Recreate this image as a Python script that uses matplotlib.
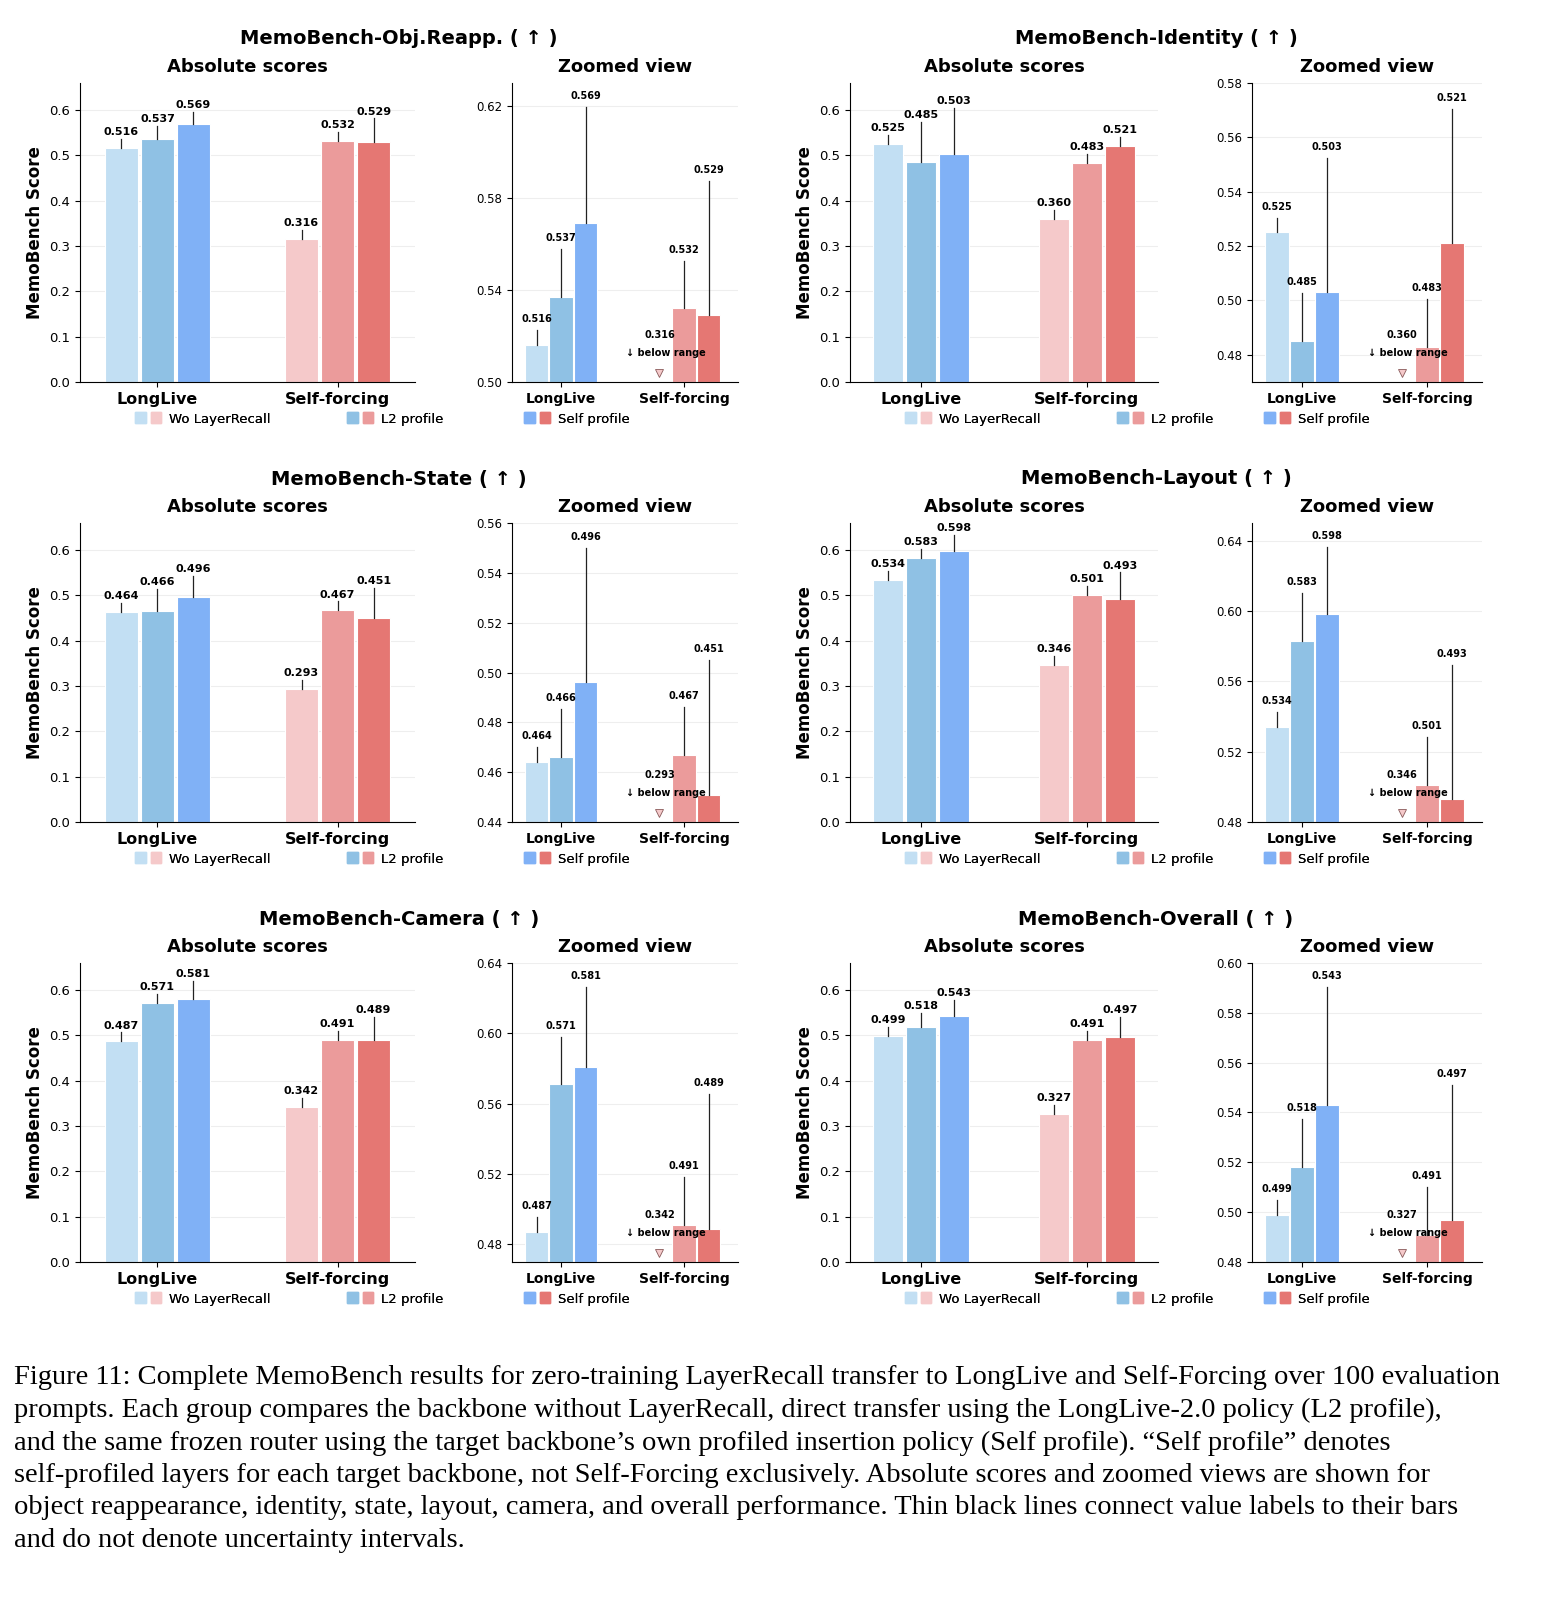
import matplotlib
matplotlib.use("Agg")
import matplotlib.pyplot as plt
from matplotlib.patches import Patch
from matplotlib.legend_handler import HandlerTuple

titles = ["MemoBench-Obj.Reapp. ( ↑ )", "MemoBench-Identity ( ↑ )", "MemoBench-State ( ↑ )",
          "MemoBench-Layout ( ↑ )", "MemoBench-Camera ( ↑ )", "MemoBench-Overall ( ↑ )"]
groups = ["LongLive", "Self-forcing"]
methods = ["Wo LayerRecall", "L2 profile", "Self profile"]
longlive = [[0.516, 0.537, 0.569], [0.525, 0.485, 0.503], [0.464, 0.466, 0.496],
            [0.534, 0.583, 0.598], [0.487, 0.571, 0.581], [0.499, 0.518, 0.543]]
selfforcing = [[0.316, 0.532, 0.529], [0.360, 0.483, 0.521], [0.293, 0.467, 0.451],
               [0.346, 0.501, 0.493], [0.342, 0.491, 0.489], [0.327, 0.491, 0.497]]
zoom_lims = [(0.50, 0.63), (0.47, 0.58), (0.44, 0.56), (0.48, 0.65), (0.47, 0.64), (0.48, 0.60)]
zoom_ticks = [[0.50, 0.54, 0.58, 0.62], [0.48, 0.50, 0.52, 0.54, 0.56, 0.58],
              [0.44, 0.46, 0.48, 0.50, 0.52, 0.54, 0.56], [0.48, 0.52, 0.56, 0.60, 0.64],
              [0.48, 0.52, 0.56, 0.60, 0.64], [0.48, 0.50, 0.52, 0.54, 0.56, 0.58, 0.60]]
blue = ["#c2dff3", "#8fc1e4", "#80b1f6"]
red = ["#f5c9ca", "#eb9b9b", "#e57773"]
caption = [
    "Figure 11: Complete MemoBench results for zero-training LayerRecall transfer to LongLive and Self-Forcing over 100 evaluation",
    "prompts. Each group compares the backbone without LayerRecall, direct transfer using the LongLive-2.0 policy (L2 profile),",
    "and the same frozen router using the target backbone’s own profiled insertion policy (Self profile). “Self profile” denotes",
    "self-profiled layers for each target backbone, not Self-Forcing exclusively. Absolute scores and zoomed views are shown for",
    "object reappearance, identity, state, layout, camera, and overall performance. Thin black lines connect value labels to their bars",
    "and do not denote uncertainty intervals.",
]

W, H = 1542, 1604
fig = plt.figure(figsize=(W / 100, H / 100), dpi=100)

def ax_px(x0, y0, x1, y1):
    return fig.add_axes([x0 / W, 1 - y1 / H, (x1 - x0) / W, (y1 - y0) / H])

def style(ax):
    for s in ["top", "right"]:
        ax.spines[s].set_visible(False)
    ax.grid(axis="y", color="#eeeeee", lw=0.8)
    ax.set_axisbelow(True)
    ax.set_xticks([0, 1])
    ax.set_xticklabels(groups, fontsize=11.5, fontweight="bold")
    ax.tick_params(axis="y", labelsize=9.5)

rows_y = [83, 523, 963]
cols_x = [(80, 415, 512, 738), (850, 1158, 1252, 1482)]
off = [-0.2, 0, 0.2]
for i in range(6):
    r, c = divmod(i, 2)
    y0 = rows_y[r]; y1 = y0 + 299
    a0, a1, z0, z1 = cols_x[c]
    vals = [longlive[i], selfforcing[i]]
    # absolute
    ax = ax_px(a0, y0, a1, y1)
    style(ax)
    ax.set_xlim(-0.43, 1.43); ax.set_ylim(0, 0.66)
    ax.set_yticks([0, .1, .2, .3, .4, .5, .6])
    ax.set_ylabel("MemoBench Score", fontsize=12, fontweight="bold")
    for g in range(2):
        prev = -1
        for k in range(3):
            col = (blue if g == 0 else red)[k]
            v = vals[g][k]; x = g + off[k]
            ax.bar(x, v, 0.18, color=col, edgecolor="white", lw=0.8)
            ly = max(v + 0.02, prev + 0.03); prev = ly
            ax.plot([x, x], [v, ly], color="#222222", lw=0.9)
            ax.text(x, ly + 0.004, f"{v:.3f}", ha="center", va="bottom", fontsize=8, fontweight="bold")
    ax.set_title("Absolute scores", fontsize=13, fontweight="bold", pad=8)
    # zoomed
    zl = zoom_lims[i]; rng = zl[1] - zl[0]
    az = ax_px(z0, y0, z1, y1)
    style(az)
    az.set_xlim(-0.4, 1.44); az.set_ylim(*zl)
    az.set_yticks(zoom_ticks[i])
    az.set_yticklabels([f"{t:.2f}" for t in zoom_ticks[i]], fontsize=8.5)
    for lab in az.get_xticklabels():
        lab.set_fontsize(10)
    fr = [0.05, 0.16, 0.45]
    for g in range(2):
        for k in range(3):
            col = (blue if g == 0 else red)[k]
            v = vals[g][k]; x = g + off[k]
            if v < zl[0]:
                az.plot(x, zl[0] + 0.03 * rng, marker="v", ms=6, mfc=col, mec="#8a5a5a", mew=0.6, clip_on=False)
                az.text(x, zl[0] + 0.14 * rng, f"{v:.3f}", ha="center", va="bottom", fontsize=7, fontweight="bold")
                az.text(x + 0.05, zl[0] + 0.08 * rng, "↓ below range", ha="center", va="bottom", fontsize=7, fontweight="bold")
                continue
            az.bar(x, v - zl[0], 0.19, bottom=zl[0], color=col, edgecolor="white", lw=0.8)
            ly = min(v + fr[k] * rng, zl[1] - 0.08 * rng)
            az.plot([x, x], [v, ly], color="#222222", lw=0.9)
            az.text(x, ly + 0.02 * rng, f"{v:.3f}", ha="center", va="bottom", fontsize=7, fontweight="bold")
    az.set_title("Zoomed view", fontsize=13, fontweight="bold", pad=8)
    # panel title
    fig.text(((a0 + z1) / 2 - 10) / W, 1 - (y0 - 44) / H, titles[i], ha="center", va="center",
             fontsize=14, fontweight="bold")
    # legends
    lx = [a0 + 55, a0 + 267, z0 + 12]
    for k in range(3):
        h = (Patch(color=blue[k]), Patch(color=red[k]))
        leg = fig.legend([h], [methods[k]], handler_map={tuple: HandlerTuple(ndivide=None, pad=0.4)},
                         loc="center left", bbox_to_anchor=(lx[k] / W, 1 - (y1 + 37) / H),
                         frameon=False, fontsize=9.5, handlelength=2.0, handleheight=0.9,
                         handletextpad=0.6, borderpad=0, borderaxespad=0)
        fig.add_artist(leg)

for j, line in enumerate(caption):
    fig.text(14 / W, 1 - (1378 + j * 32.5) / H, line, ha="left", va="center",
             fontsize=20.5, family="Liberation Serif")

fig.savefig("out.png", dpi=100, facecolor="white")
